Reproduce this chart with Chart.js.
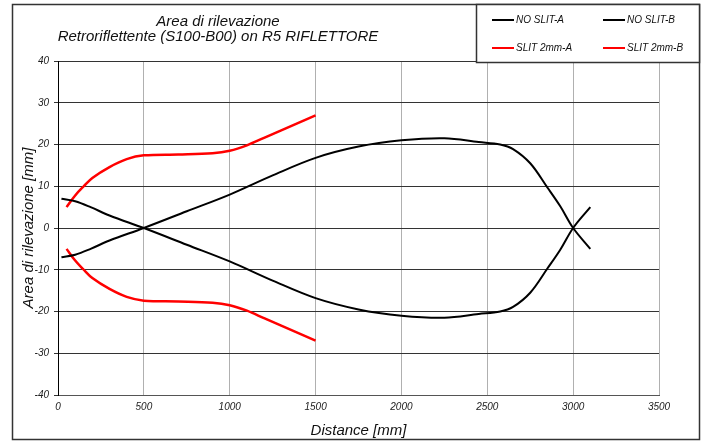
<!DOCTYPE html>
<html>
<head>
<meta charset="utf-8">
<script src="https://cdn.jsdelivr.net/npm/chart.js@4.4.0/dist/chart.umd.min.js"></script>
<style>
html, body { margin: 0; padding: 0; background: #fff; }
#wrap { width: 703px; height: 444px; }
</style>
</head>
<body>
<div id="wrap"><canvas id="chartArea" width="703" height="444"></canvas></div>
<script>
// distances (mm) and detection area (mm)
const noSlitX = [20, 100, 190, 300, 500, 750, 1000, 1250, 1500, 1750, 2000, 2250, 2450, 2575, 2650, 2750, 2850, 2925, 3000, 3100];
const noSlitA = [7, 6.4, 5, 3, 0, -4, -8, -12.6, -16.8, -19.5, -21, -21.5, -20.6, -20, -18.9, -15.5, -9.7, -5.2, 0, 5];
const noSlitB = [-7, -6.4, -5, -3, 0, 4, 8, 12.6, 16.8, 19.5, 21, 21.5, 20.6, 20, 18.9, 15.5, 9.7, 5.2, 0, -5];

const slitX = [50, 100, 150, 200, 300, 400, 500, 700, 900, 1000, 1100, 1200, 1300, 1500];
const slitA = [5, 7.8, 10, 12, 14.6, 16.5, 17.4, 17.6, 17.9, 18.5, 19.8, 21.6, 23.4, 27];
const slitB = [-5, -7.8, -10, -12, -14.6, -16.5, -17.4, -17.6, -17.9, -18.5, -19.8, -21.6, -23.4, -27];

const titleLines = ['Area di rilevazione', 'Retroriflettente (S100-B00) on R5 RIFLETTORE'];
const fontFam = '"Liberation Sans Narrow", "Liberation Sans", sans-serif';

function pts(xs, ys) {
    return xs.map((x, i) => ({x: x, y: ys[i]}));
}

function makeSet(label, xs, ys, color, w) {
    return {
        label: label,
        data: pts(xs, ys),
        borderColor: color,
        backgroundColor: color,
        borderWidth: w,
        pointRadius: 0,
        fill: false,
        tension: 0.35
    };
}

const framePlugin = {
    id: 'framePlugin',
    beforeDraw(chart) {
        const c = chart.ctx;
        c.save();
        c.fillStyle = '#fff';
        c.fillRect(0, 0, chart.width, chart.height);
        c.restore();
    },
    afterDraw(chart) {
        const c = chart.ctx;
        c.save();
        // outer frame
        c.strokeStyle = '#333';
        c.lineWidth = 1.5;
        c.strokeRect(12.5, 4.5, 687, 435);
        // title
        c.fillStyle = '#111';
        c.font = 'italic 15px ' + fontFam;
        c.textAlign = 'center';
        c.textBaseline = 'middle';
        c.fillText(titleLines[0], 218, 22);
        c.fillText(titleLines[1], 218, 37);
        // legend box
        c.fillStyle = '#fff';
        c.fillRect(476, 4, 224, 59);
        c.strokeStyle = '#333';
        c.lineWidth = 1.5;
        c.strokeRect(476.5, 4.5, 223, 58);
        const spots = [[492, 20], [603, 20], [492, 48], [603, 48]];
        chart.data.datasets.forEach((ds, i) => {
            const p = spots[i];
            c.strokeStyle = ds.borderColor;
            c.lineWidth = 2;
            c.beginPath();
            c.moveTo(p[0], p[1]);
            c.lineTo(p[0] + 22, p[1]);
            c.stroke();
            c.fillStyle = '#111';
            c.font = 'italic 10px ' + fontFam;
            c.textAlign = 'left';
            c.fillText(ds.label, p[0] + 24, p[1] + 0.5);
        });
        c.restore();
    }
};

const ctx = document.getElementById('chartArea').getContext('2d');
const myChart = new Chart(ctx, {
    type: 'line',
    data: {
        datasets: [
            makeSet('NO SLIT-A', noSlitX, noSlitA, '#000', 2),
            makeSet('NO SLIT-B', noSlitX, noSlitB, '#000', 2),
            makeSet('SLIT 2mm-A', slitX, slitA, '#ff0000', 2.5),
            makeSet('SLIT 2mm-B', slitX, slitB, '#ff0000', 2.5)
        ]
    },
    options: {
        responsive: false,
        animation: false,
        layout: {padding: {left: 12, right: 44, top: 61, bottom: 4}},
        plugins: {
            legend: {display: false},
            title: {display: false},
            tooltip: {enabled: false}
        },
        scales: {
            x: {
                type: 'linear',
                min: 0,
                max: 3500,
                afterFit: s => { s.height = 45; },
                ticks: {
                    stepSize: 500,
                    padding: 6,
                    maxRotation: 0,
                    color: '#222',
                    callback: v => String(v),
                    font: {family: fontFam, size: 10, style: 'italic'}
                },
                grid: {color: '#b0b0b0', lineWidth: 1, drawTicks: false},
                border: {color: '#555', width: 1},
                title: {
                    display: true,
                    text: 'Distance [mm]',
                    color: '#111',
                    padding: {top: 0, bottom: 0},
                    font: {family: fontFam, size: 15, style: 'italic'}
                }
            },
            y: {
                min: -40,
                max: 40,
                afterFit: s => { s.width = 46; },
                ticks: {
                    stepSize: 10,
                    padding: 5,
                    color: '#222',
                    font: {family: fontFam, size: 10, style: 'italic'}
                },
                grid: {color: '#333', lineWidth: 1, tickLength: 4},
                border: {color: '#000', width: 1},
                title: {
                    display: true,
                    text: 'Area di rilevazione [mm]',
                    color: '#111',
                    padding: {top: 8, bottom: 4},
                    font: {family: fontFam, size: 15, style: 'italic'}
                }
            }
        }
    },
    plugins: [framePlugin]
});
</script>
</body>
</html>
